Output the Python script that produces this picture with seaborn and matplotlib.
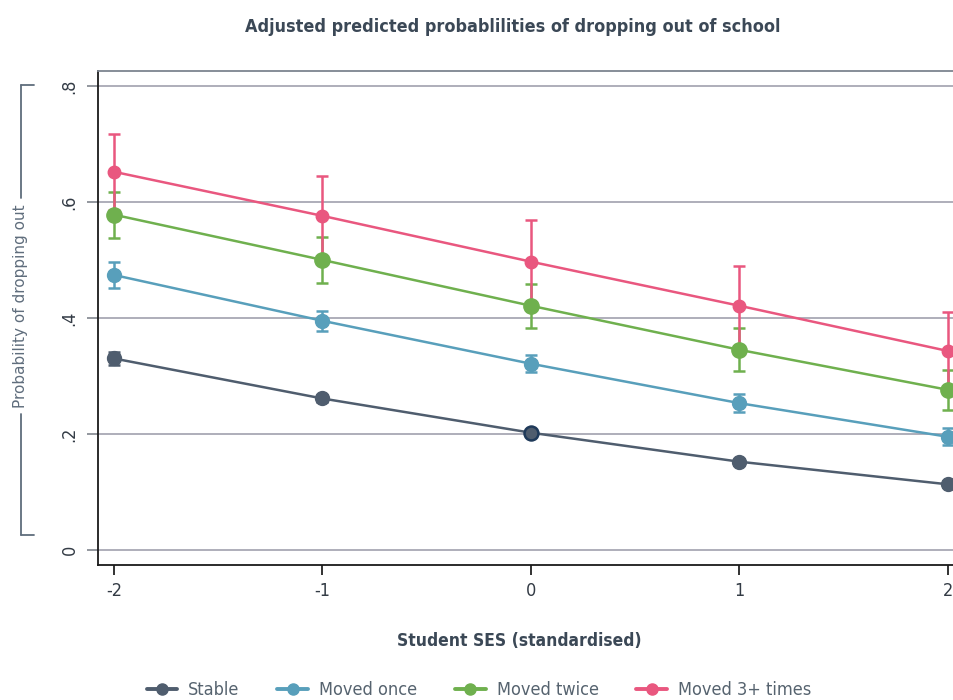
import matplotlib
matplotlib.use("Agg")
import matplotlib.pyplot as plt
from matplotlib.lines import Line2D
import seaborn as sns
import pandas as pd
import numpy as np

# data
ses = [-2, -1, 0, 1, 2]
groups = ["Stable", "Moved once", "Moved twice", "Moved 3+ times"]
stable = [0.330, 0.261, 0.202, 0.152, 0.113]
stable_ci = [0.012, 0.006, 0.005, 0.005, 0.005]
moved_once = [0.474, 0.395, 0.321, 0.253, 0.195]
moved_once_ci = [0.022, 0.017, 0.015, 0.015, 0.015]
moved_twice = [0.578, 0.500, 0.421, 0.345, 0.276]
moved_twice_ci = [0.040, 0.040, 0.038, 0.037, 0.035]
moved_3plus = [0.652, 0.576, 0.497, 0.421, 0.343]
moved_3plus_ci = [0.066, 0.069, 0.071, 0.069, 0.067]

colors = ["#4f5d6e", "#589fbb", "#6fb04e", "#e9577f"]
marker_sizes = [10, 10, 11, 9]

df = pd.DataFrame({
    "ses": ses * 4,
    "prob": stable + moved_once + moved_twice + moved_3plus,
    "ci": stable_ci + moved_once_ci + moved_twice_ci + moved_3plus_ci,
    "group": np.repeat(groups, len(ses)),
})

sns.set_style("white")
plt.rcParams["font.family"] = ["DejaVu Sans"]
plt.rcParams["font.stretch"] = "condensed"

fig = plt.figure(figsize=(9.54, 7.0), dpi=100)
ax = fig.add_axes([0.1027, 0.193, 0.8973, 0.7057])

# horizontal grid
for yv in [0, 0.2, 0.4, 0.6, 0.8]:
    ax.axhline(yv, color="#a8a8b4", lw=1.3, zorder=0)

# error bars
for g, c in zip(groups, colors):
    sub = df[df["group"] == g]
    ax.errorbar(sub["ses"], sub["prob"], yerr=sub["ci"], fmt="none",
                ecolor=c, elinewidth=1.8, capsize=4, capthick=1.8, zorder=2)

sns.lineplot(data=df, x="ses", y="prob", hue="group", hue_order=groups,
             palette=colors, lw=1.8, legend=False, ax=ax, zorder=3)
for g, c, ms in zip(groups, colors, marker_sizes):
    sub = df[df["group"] == g]
    ax.plot(sub["ses"], sub["prob"], "o", color=c, ms=ms, mec=c, zorder=4)
# highlighted reference point
ax.plot([0], [stable[2]], "o", color=colors[0], ms=10, mec="#1f3a5a", mew=1.8, zorder=5)

ax.set_xlim(-2.077, 2.03)
ax.set_ylim(-0.026, 0.826)
ax.set_xticks(ses)
ax.set_xticklabels(["-2", "-1", "0", "1", "2"])
ax.set_yticks([0, 0.2, 0.4, 0.6, 0.8])
ax.set_yticklabels(["0", ".2", ".4", ".6", ".8"], rotation=90, va="center")
ax.tick_params(axis="y", length=8, width=1.3, color="#8a8f96", pad=6,
               labelsize=13, labelcolor="#333b45", left=True)
ax.tick_params(axis="x", length=7, width=1.3, color="#222222", pad=5,
               labelsize=13, labelcolor="#333b45", bottom=True)

for s in ["left", "bottom"]:
    ax.spines[s].set_color("#1a1a1a")
    ax.spines[s].set_linewidth(1.3)
ax.spines["top"].set_color("#7d8590")
ax.spines["top"].set_linewidth(1.3)
ax.spines["right"].set_visible(False)

ax.set_xlabel("Student SES (standardised)", fontsize=12.5, fontweight="bold",
              color="#3b4856")
ax.xaxis.set_label_coords(0.4924, -0.136)
ax.set_ylabel("")

fig.text(0.537, 0.961, "Adjusted predicted probablilities of dropping out of school",
         ha="center", va="center", fontsize=12.9, fontweight="bold", color="#3b4856")

# y-axis title with bracket
bc = "#5f6d7c"
fig.text(0.0215, 1 - 306 / 700, "Probability of dropping out", rotation=90,
         ha="center", va="center", fontsize=11, fontstretch="normal", color=bc)
for y0, y1 in [(85, 198), (414, 535)]:
    fig.add_artist(Line2D([21 / 954, 21 / 954], [1 - y0 / 700, 1 - y1 / 700], color=bc, lw=1.3))
for yy in [85, 535]:
    fig.add_artist(Line2D([21 / 954, 34 / 954], [1 - yy / 700, 1 - yy / 700], color=bc, lw=1.3))

handles = [Line2D([], [], color=c, marker="o", ms=8, lw=2.8, label=g)
           for g, c in zip(groups, colors)]
fig.legend(handles=handles, loc="center", bbox_to_anchor=(0.502, 0.014), ncol=4,
           frameon=False, fontsize=13, labelcolor="#56636f", handlelength=1.7,
           columnspacing=2.1, handletextpad=0.6)

fig.savefig("out.png", dpi=100)
